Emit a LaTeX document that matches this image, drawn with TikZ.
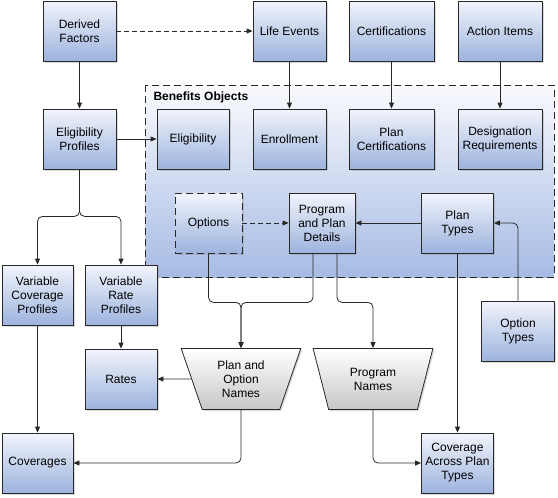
\documentclass[tikz,border=0pt]{standalone}
\usepackage{fontspec}
\setmainfont{Liberation Sans}
\usetikzlibrary{arrows.meta,shapes.geometric,shadows}
\definecolor{boxtop}{RGB}{241,244,251}
\definecolor{boxbot}{RGB}{157,179,222}
\definecolor{grptop}{RGB}{249,250,253}
\definecolor{grpbot}{RGB}{167,187,228}
\definecolor{edge}{RGB}{40,40,40}
\tikzset{
  obj/.style={rectangle,draw=edge,line width=0.8pt,top color=boxtop,bottom color=boxbot,
    minimum height=60pt,minimum width=73pt,inner sep=2pt,align=center,
    font=\fontsize{12}{14}\selectfont,
    drop shadow={shadow xshift=1.5pt,shadow yshift=-1.5pt,opacity=0.3}},
  names/.style={trapezium,trapezium stretches=true,shape border rotate=180,trapezium angle=71,
    draw=edge,line width=0.8pt,top color=white,bottom color=black!22,
    minimum width=120pt,minimum height=61pt,inner sep=1pt,align=center,
    font=\fontsize{12}{14}\selectfont,
    drop shadow={shadow xshift=1.5pt,shadow yshift=-1.5pt,opacity=0.3}},
  link/.style={draw=edge,line width=0.8pt,-{Triangle[length=6pt,width=5pt]},rounded corners=5pt},
  optlink/.style={link,dashed,dash pattern=on 5pt off 3pt}
}
\begin{document}
\begin{tikzpicture}[x=1pt,y=-1pt]
\useasboundingbox (0,0) rectangle (558,498);

% benefits objects group
\draw[edge,line width=0.8pt,dash pattern=on 7pt off 4pt,top color=grptop,bottom color=grpbot]
  (145,85) rectangle (554,277);
\node (bo)[anchor=west,font=\bfseries\fontsize{12}{14}\selectfont] at (150,97) {Benefits Objects};

\node (df)[obj] at (79.5,31) {Derived\\Factors};
\node (le)[obj] at (289.5,31) {Life Events};
\node (cert)[obj,minimum width=85pt] at (391.5,31) {Certifications};
\node (act)[obj,minimum width=84pt] at (500,31) {Action Items};

\node (ep)[obj] at (79.5,139) {Eligibility\\Profiles};
\node (elig)[obj,minimum width=72pt] at (193,139) {Eligibility};
\node (enr)[obj] at (289.5,139) {Enrollment};
\node (pc)[obj,minimum width=85pt] at (391.5,139) {Plan\\Certifications};
\node (dr)[obj,minimum width=84pt] at (500,139) {Designation\\Requirements};

\node (opt)[obj,minimum width=67pt,dashed,dash pattern=on 7pt off 4pt,drop shadow={opacity=0}] at (208.5,223) {Options};
\node (ppd)[obj,minimum width=66pt] at (322,223) {Program\\and Plan\\Details};
\node (pt)[obj,minimum width=72pt] at (457.5,223) {Plan\\Types};

\node (vcp)[obj,minimum width=71pt] at (37.5,295) {Variable\\Coverage\\Profiles};
\node (vrp)[obj,minimum width=72pt] at (121,295) {Variable\\Rate\\Profiles};
\node (ot)[obj] at (518,331) {Option\\Types};

\node (rates)[obj,minimum width=72pt] at (121,379) {Rates};
\node (pon)[names] at (241,379) {Plan and\\Option\\Names};
\node (pn)[names] at (373,379) {Program\\Names};

\node (cov)[obj,minimum width=71pt] at (37.5,463) {Coverages};
\node (capt)[obj,minimum width=72pt] at (457.5,463) {Coverage\\Across Plan\\Types};

\draw[optlink] (df) -- (le);
\draw[optlink] (opt) -- (ppd);
\foreach \from/\to in {df/ep,le/enr,cert/pc,act/dr,ep/elig,vrp/rates,vcp/cov,pt/ppd,pon/rates}
  \draw[link] (\from) -- (\to);
\draw[link] (pt.south) -- (capt.north);

% forks and bends
\draw[link] (ep.south) -- ++(0,47) -| (vcp.north);
\draw[link] (ep.south) -- ++(0,47) -| (vrp.north);
\draw[link] (ot.north) |- (pt.east);
\draw[link] (opt.south) -- ++(0,49) -| (pon.north);
\draw[link] ([xshift=-9pt]ppd.south) -- ++(0,49) -| (pon.north);
\draw[link] ([xshift=15pt]ppd.south) -- ++(0,49) -| (pn.north);
\draw[link] (pon.south) |- (cov.east);
\draw[link] (pn.south) |- (capt.west);

\end{tikzpicture}
\end{document}
